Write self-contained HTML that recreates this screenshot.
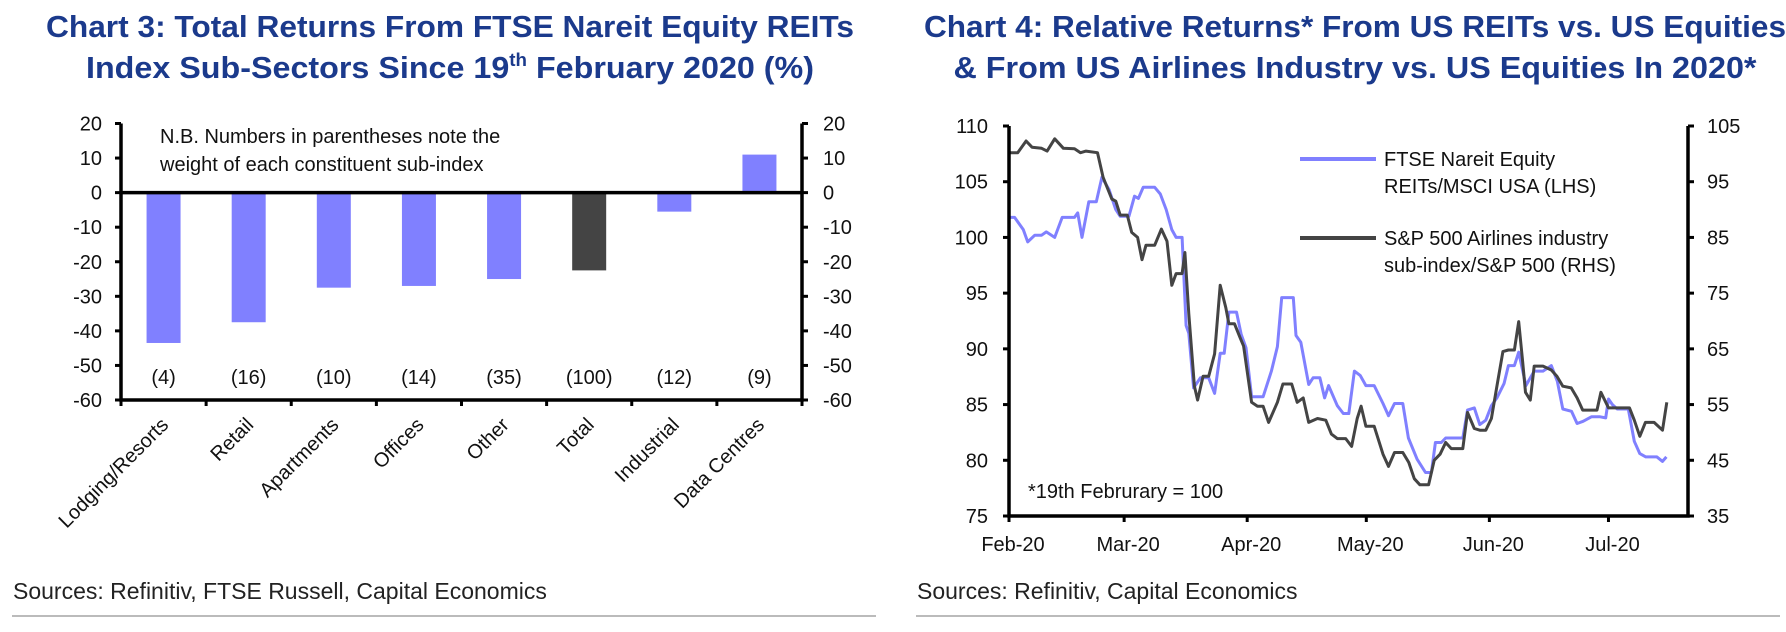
<!DOCTYPE html>
<html><head><meta charset="utf-8">
<style>
html,body{margin:0;padding:0;background:#fff;}
svg{display:block;font-family:"Liberation Sans",sans-serif;}
.t{font-weight:bold;fill:#1b3a8c;font-size:31px;}
.tk{font-size:20px;fill:#111;}
.lg{font-size:20px;fill:#111;}
</style></head>
<body>
<svg id="s" width="1786" height="632" viewBox="0 0 1786 632" xmlns="http://www.w3.org/2000/svg">
<text class="t" x="450" y="37" text-anchor="middle" textLength="808" lengthAdjust="spacingAndGlyphs">Chart 3: Total Returns From FTSE Nareit Equity REITs</text>
<text class="t" x="450" y="78" text-anchor="middle" textLength="728" lengthAdjust="spacingAndGlyphs">Index Sub-Sectors Since 19<tspan font-size="18" dy="-12">th</tspan><tspan dy="12"> February 2020 (%)</tspan></text>
<text class="t" x="1355" y="37" text-anchor="middle" textLength="862" lengthAdjust="spacingAndGlyphs">Chart 4: Relative Returns* From US REITs vs. US Equities</text>
<text class="t" x="1355" y="78" text-anchor="middle" textLength="803" lengthAdjust="spacingAndGlyphs">&amp; From US Airlines Industry vs. US Equities In 2020*</text>
<g id="c3"></g>
<g id="c4"></g>
<text x="13" y="599" font-size="23" fill="#222">Sources: Refinitiv, FTSE Russell, Capital Economics</text>
<text x="917" y="599" font-size="23" fill="#222">Sources: Refinitiv, Capital Economics</text>
<rect x="12" y="615" width="864" height="2" fill="#bbb"/>
<rect x="916" y="615" width="864" height="2" fill="#bbb"/>
</svg>
<script>
const NS="http://www.w3.org/2000/svg";
// ---- Chart 3 data ----
const categories=["Lodging/Resorts","Retail","Apartments","Offices","Other","Total","Industrial","Data Centres"];
const barValues=[-43.5,-37.5,-27.5,-27,-25,-22.5,-5.5,11];
const weights=["(4)","(16)","(10)","(14)","(35)","(100)","(12)","(9)"];
const yTicks3=[20,10,0,-10,-20,-30,-40,-50,-60];
// ---- Chart 4 data ----
const reitDays=[0,1.4,3.6,4.7,6.5,8.2,9.4,11.5,13.4,16.5,17.3,18.4,20.1,22,23.4,25.2,26.9,28,30.2,31.6,32.6,33.8,36.7,38.1,39.6,41,42.1,43.6,44.6,45.3,46.5,48.2,50.3,51.8,53.2,54.2,55.4,57.3,58.5,59.7,61.1,64,66.1,67.6,68.7,71.6,72.3,73.5,75.5,76.6,78.3,79.5,80.5,82.7,84.2,85.6,87,88.5,89.9,92,94.2,95.6,97.1,99.2,100.6,102.8,104.9,106.4,107.4,108.9,110,111.5,114.3,115.5,117.2,118.6,120.1,121.5,122.9,124.7,125.8,127.3,128.4,130.2,132.3,134.5,136.6,138.1,139.5,141.7,143.1,144.6,146.7,148.9,150.3,151,152,153.2,156,157.5,158.9,160.4,163.2,164.6,165.6];
const reitValues=[101.8,101.8,100.7,99.6,100.2,100.2,100.5,100,101.8,101.8,102.2,100,103.2,103.2,105.4,104.3,102.5,101.9,101.9,103.7,103.5,104.5,104.5,103.9,102.5,100.7,100,100,92.1,91.4,86.5,87.4,87.4,86,89.6,89.6,93.3,93.3,91.3,90.1,85.7,85.7,88,90.2,94.6,94.6,91.2,90.6,86.8,87.4,87.4,85.6,86.7,84.9,84.2,84.2,88,87.6,86.7,86.7,85.1,84,85.1,85.1,82,80.1,78.9,78.9,81.6,81.6,82,82,82,84.5,84.7,83.2,83.6,84.9,85.6,86.9,88.5,88.5,89.7,86.7,88,88,88.5,87.1,84.6,84.4,83.3,83.5,83.9,83.9,83.8,85.5,85,84.6,84.6,81.7,80.6,80.3,80.3,79.9,80.3];
const airDays=[0,2.2,4.3,5.8,8.2,9.6,11.5,13.7,16.5,18,19.4,22.3,23.7,25.9,26.9,28,29.8,30.9,32.4,33.5,34.5,36.7,38.4,39.8,41,42.1,43.6,44.3,45.3,46.7,47.5,48.9,50.3,51.8,53.2,54.6,55.4,56.8,58.2,59.1,61.1,62.6,64,65.4,67.6,69,71.2,72.6,74.1,75.5,77.7,79.8,81.2,82.7,84.8,86.3,87.7,88.7,89.9,92,94.2,95.6,97.1,99.2,100.7,102.1,103.5,105.7,107.1,108.6,110,111.4,114.3,115.5,117.2,118.6,120.1,121.5,122.9,124.4,125.8,127.3,128.4,129.4,130.1,131.3,132.3,134.5,136.6,138,139.5,141.6,143.1,144.5,146.7,148.1,149.1,151,153.1,156.3,157.5,158.9,160.3,162.5,164.6,165.7];
const airValues=[100.2,100.2,102.3,101.2,101,100.5,102.7,101,100.9,100.2,100.5,100.2,95.8,91.9,91.5,89,89,85.9,85,81,83.6,83.6,86.5,84.3,76.4,78.5,78.5,82.3,71.3,58.3,55.8,60.1,60.1,64.1,76.4,72.4,69.5,69.5,67,65.5,55.4,54.7,54.7,51.8,55.4,58.7,58.7,55.4,56.2,51.8,52.5,52.2,49.7,48.9,48.9,47.5,52.5,54.7,51.1,51.1,46.1,43.9,46.4,46.4,44.6,41.7,40.6,40.6,45,46.1,48.2,47.1,47.1,53.6,50.7,50.4,50.4,52.5,58.3,64.5,64.8,64.8,69.9,62.6,57.2,55.8,61.9,61.9,61.2,60.1,58.3,58,56.2,54,54,54,57.2,54.4,54.4,54.4,52.2,49.3,51.8,51.8,50.4,55.4];
const leftTicks=[110,105,100,95,90,85,80,75];
const rightTicks=[105,95,85,75,65,55,45,35];
const monthLabels=["Feb-20","Mar-20","Apr-20","May-20","Jun-20","Jul-20"];
const monthDays=[0,29,60,90,121,151];

function mk(parent,tag,attrs,text){const e=document.createElementNS(NS,tag);for(const k in attrs)e.setAttribute(k,attrs[k]);if(text!==undefined)e.textContent=text;parent.appendChild(e);return e;}

// ===== Chart 3 =====
(function(){
const g=document.getElementById('c3');
const L=121,R=802,T=123.5,B=400;
const y=v=>T+(20-v)*(B-T)/80;
const bw=(R-L)/categories.length;
const xc=i=>L+bw*(i+0.5);
yTicks3.forEach(v=>{
  let t=mk(g,'text',{x:102,y:y(v)+7,'text-anchor':'end',class:'tk'},v);
  
  
  t=mk(g,'text',{x:823,y:y(v)+7,class:'tk'},v);
  
  
  let l=mk(g,'line',{x1:L-6,x2:L,y1:y(v),y2:y(v),stroke:'#000','stroke-width':3});
  
  
  l=mk(g,'line',{x1:R,x2:R+6,y1:y(v),y2:y(v),stroke:'#000','stroke-width':3});
  
  
});
barValues.forEach((v,i)=>{
  const r=mk(g,'rect',{x:xc(i)-17,width:34,y:Math.min(y(v),y(0)),height:Math.abs(y(v)-y(0)),fill:categories[i]==='Total'?'#444':'#8080ff'});
  
  
  const w=mk(g,'text',{x:xc(i),y:384,'text-anchor':'middle',class:'tk'},weights[i]);
  
  
  const c=mk(g,'text',{x:0,y:0,'text-anchor':'end',class:'tk',transform:'translate('+(xc(i)+6)+',426) rotate(-45)'},categories[i]);
  
  
});
for(let i=0;i<=categories.length;i++){
  const t=mk(g,'line',{x1:L+bw*i,x2:L+bw*i,y1:B,y2:B+6,stroke:'#000','stroke-width':3});
  
  
}
let a=mk(g,'line',{x1:L,x2:R,y1:y(0),y2:y(0),stroke:'#000','stroke-width':3.5});


a=mk(g,'path',{d:`M${L} ${T}V${B}H${R}V${T}`,fill:'none',stroke:'#000','stroke-width':3.5});


let n=mk(g,'text',{x:160,y:143,class:'lg'},'N.B. Numbers in parentheses note the');


n=mk(g,'text',{x:160,y:171,class:'lg'},'weight of each constituent sub-index');


})();

// ===== Chart 4 =====
(function(){
const g=document.getElementById('c4');
const L=1009,R=1688,T=126,B=516,pxDay=3.97;
const x=d=>L+d*pxDay;
const yl=v=>T+(110-v)*(B-T)/35;
const yr=v=>T+(105-v)*(B-T)/70;
leftTicks.forEach(v=>{
  const t=mk(g,'text',{x:988,y:yl(v)+7,'text-anchor':'end',class:'tk'},v);
  
  
  const l=mk(g,'line',{x1:L-6,x2:L,y1:yl(v),y2:yl(v),stroke:'#000','stroke-width':3});
  
  
});
rightTicks.forEach(v=>{
  const t=mk(g,'text',{x:1707,y:yr(v)+7,class:'tk'},v);
  
  
  const l=mk(g,'line',{x1:R,x2:R+6,y1:yr(v),y2:yr(v),stroke:'#000','stroke-width':3});
  
  
});
monthLabels.forEach((m,i)=>{
  const t=mk(g,'text',{x:x(monthDays[i])+4,y:551,'text-anchor':'middle',class:'tk'},m);
  
  
  const l=mk(g,'line',{x1:x(monthDays[i]),x2:x(monthDays[i]),y1:B,y2:B+6,stroke:'#000','stroke-width':3});
  
  
});
let p=mk(g,'path',{d:reitDays.map((d,i)=>(i?'L':'M')+x(d).toFixed(1)+' '+yl(reitValues[i]).toFixed(1)).join(''),fill:'none',stroke:'#8080ff','stroke-width':3,'stroke-linejoin':'round'});


p=mk(g,'path',{d:airDays.map((d,i)=>(i?'L':'M')+x(d).toFixed(1)+' '+yr(airValues[i]).toFixed(1)).join(''),fill:'none',stroke:'#444','stroke-width':3,'stroke-linejoin':'round'});


let a=mk(g,'path',{d:`M${L} ${T}V${B}H${R}V${T}`,fill:'none',stroke:'#000','stroke-width':3.5});


let e=mk(g,'line',{x1:1300,x2:1376,y1:159,y2:159,stroke:'#8080ff','stroke-width':4});


e=mk(g,'line',{x1:1300,x2:1376,y1:238,y2:238,stroke:'#444','stroke-width':4});


let t=mk(g,'text',{x:1384,y:166,class:'lg'},'FTSE Nareit Equity');


t=mk(g,'text',{x:1384,y:193,class:'lg'},'REITs/MSCI USA (LHS)');


t=mk(g,'text',{x:1384,y:245,class:'lg'},'S&P 500 Airlines industry');


t=mk(g,'text',{x:1384,y:272,class:'lg'},'sub-index/S&P 500 (RHS)');


t=mk(g,'text',{x:1028,y:498,class:'lg'},'*19th Februrary = 100');


})();
</script>
</body></html>
